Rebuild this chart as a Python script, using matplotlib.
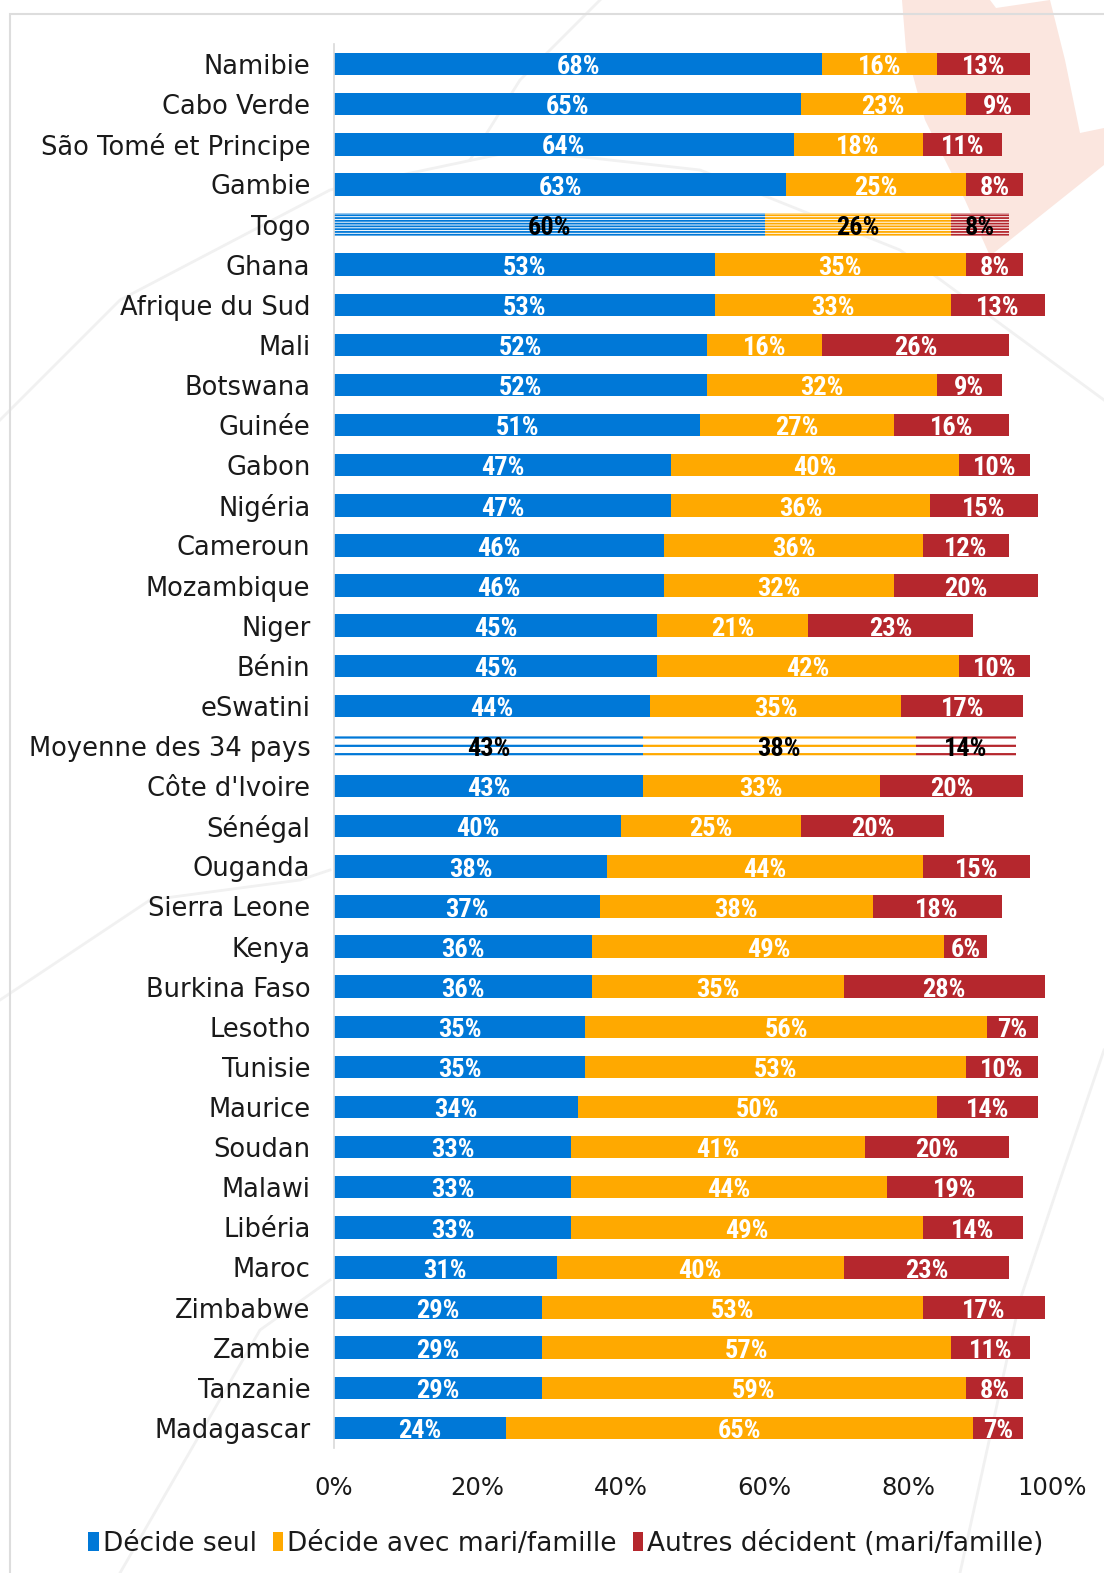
import matplotlib
matplotlib.use("Agg")
import matplotlib.pyplot as plt
from matplotlib.patches import Rectangle, Polygon, Patch
from matplotlib.lines import Line2D

countries = ["Namibie", "Cabo Verde", "São Tomé et Principe", "Gambie", "Togo",
             "Ghana", "Afrique du Sud", "Mali", "Botswana", "Guinée", "Gabon",
             "Nigéria", "Cameroun", "Mozambique", "Niger", "Bénin", "eSwatini",
             "Moyenne des 34 pays", "Côte d'Ivoire", "Sénégal", "Ouganda",
             "Sierra Leone", "Kenya", "Burkina Faso", "Lesotho", "Tunisie",
             "Maurice", "Soudan", "Malawi", "Libéria", "Maroc", "Zimbabwe",
             "Zambie", "Tanzanie", "Madagascar"]
seul = [68, 65, 64, 63, 60, 53, 53, 52, 52, 51, 47, 47, 46, 46, 45, 45, 44,
        43, 43, 40, 38, 37, 36, 36, 35, 35, 34, 33, 33, 33, 31, 29, 29, 29, 24]
avec = [16, 23, 18, 25, 26, 35, 33, 16, 32, 27, 40, 36, 36, 32, 21, 42, 35,
        38, 33, 25, 44, 38, 49, 35, 56, 53, 50, 41, 44, 49, 40, 53, 57, 59, 65]
autres = [13, 9, 11, 8, 8, 8, 13, 26, 9, 16, 10, 15, 12, 20, 23, 10, 17,
          14, 20, 20, 15, 18, 6, 28, 7, 10, 14, 20, 19, 14, 23, 17, 11, 8, 7]
series_names = ["Décide seul", "Décide avec mari/famille", "Autres décident (mari/famille)"]
x_ticks = [0, 20, 40, 60, 80, 100]
x_tick_labels = ["0%", "20%", "40%", "60%", "80%", "100%"]

colors = ["#0078d7", "#ffa900", "#b5272d"]
focus_dense = "Togo"
focus_avg = "Moyenne des 34 pays"

W, H = 1104, 1573
fig = plt.figure(figsize=(W / 100, H / 100), dpi=100)
fig.patch.set_facecolor("white")


def fig_xy(points):
    return [(x / W, 1 - y / H) for x, y in points]


# faint background artwork: pale shape at the top right and thin grey strokes
shape_px = [(902, 0), (990, 0), (996, 8), (1050, 0), (1065, 60), (1080, 133),
            (1104, 128), (1104, 165), (990, 256), (965, 200), (925, 120), (906, 50)]
fig.patches.append(Polygon(fig_xy(shape_px), closed=True, transform=fig.transFigure,
                           facecolor="#fbe6df", edgecolor="none", zorder=-5))
strokes = [
    [(0, 420), (120, 300), (330, 190), (520, 150), (700, 170), (900, 250), (1104, 400)],
    [(0, 1000), (150, 900), (300, 880), (330, 870)],
    [(120, 1573), (260, 1330), (330, 1280)],
    [(1104, 1050), (1060, 1180), (1020, 1300), (960, 1573)],
    [(600, 0), (520, 80), (470, 160)],
]
for st in strokes:
    xs, ys = zip(*fig_xy(st))
    fig.add_artist(Line2D(xs, ys, transform=fig.transFigure, color="#f1f1f1",
                          linewidth=2.0, zorder=-4))
fig.patches.append(Rectangle((10 / W, -0.1), 1.2, 1 - 14 / H + 0.1,
                             transform=fig.transFigure, facecolor="none",
                             edgecolor="#dddddd", linewidth=1.5, zorder=-3))

ax = fig.add_axes([334 / W, 1 - 1448 / H, 718 / W, (1448 - 44) / H])
ax.set_facecolor("none")

bar_h = 0.56
label_font = ["Roboto Condensed", "Liberation Sans Narrow", "Roboto", "DejaVu Sans"]
series = [seul, avec, autres]

for i, name in enumerate(countries):
    left = 0
    for s, vals in enumerate(series):
        v = vals[i]
        if name == focus_dense:
            with plt.rc_context({"hatch.linewidth": 1.3}):
                ax.barh(i, v, left=left, height=bar_h, facecolor="white",
                        edgecolor=colors[s], linewidth=0, hatch="------", zorder=2)
            tc = "black"
        elif name == focus_avg:
            with plt.rc_context({"hatch.linewidth": 1.6}):
                ax.barh(i, v, left=left, height=bar_h, facecolor="white",
                        edgecolor=colors[s], linewidth=0, hatch="--", zorder=2)
            tc = "black"
        else:
            ax.barh(i, v, left=left, height=bar_h, color=colors[s], linewidth=0, zorder=2)
            tc = "white"
        ax.text(left + v / 2, i + 0.08, f"{v}%", ha="center", va="center",
                color=tc, fontsize=19, fontweight="bold", fontstretch="condensed",
                family=label_font, zorder=3)
        left += v

ax.set_ylim(len(countries) - 0.5, -0.5)
ax.set_xlim(0, 100)
ax.set_yticks(range(len(countries)))
ax.set_yticklabels(countries, fontsize=18.5, color="#1a1a1a")
ax.set_xticks(x_ticks)
ax.set_xticklabels(x_tick_labels, fontsize=17.5, color="#1a1a1a")
ax.tick_params(axis="y", length=0, pad=17)
ax.tick_params(axis="x", length=0, pad=20)
for side in ["top", "right", "bottom"]:
    ax.spines[side].set_visible(False)
ax.spines["left"].set_color("#d9d9d9")
ax.spines["left"].set_linewidth(1.2)

handles = [Patch(facecolor=c, edgecolor="none") for c in colors]
fig.legend(handles, series_names, loc="center", bbox_to_anchor=(566 / W, 1 - 1544 / H),
           ncol=3, frameon=False, fontsize=19, handlelength=0.4, handleheight=0.75,
           handletextpad=0.15, columnspacing=0.6, labelcolor="#1a1a1a")

fig.savefig("out.png", dpi=100, facecolor="white")
